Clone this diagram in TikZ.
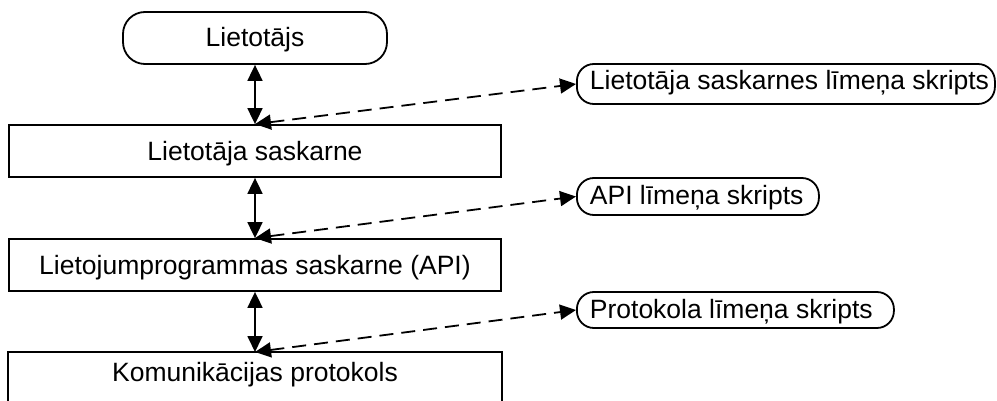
\documentclass[tikz,border=0pt]{standalone}
\usepackage{fontspec}
\setmainfont{Liberation Sans}
\usetikzlibrary{arrows.meta}
% left-aligned label inside a box of fixed width
\newcommand\scriptlabel[2]{\makebox[#1][l]{\hspace{13pt}#2}}
\begin{document}
\begin{tikzpicture}[x=1pt,y=-1pt,
  font=\fontsize{26.5}{30}\selectfont,
  line width=1.8pt,
  tip/.tip={Triangle[length=16pt,width=15pt]},
  layerbox/.style={draw, minimum width=492pt, minimum height=52pt,
    inner sep=0pt, text height=19pt, text depth=0pt},
  userbox/.style={draw, rounded corners=22pt, minimum width=264pt,
    minimum height=52pt, inner sep=0pt, text height=19pt, text depth=2pt},
  scriptbox/.style={draw, rounded corners=17pt, inner sep=0pt,
    text height=19pt, text depth=2pt, anchor=west},
  link/.style={{tip}-{tip}},
  dashlink/.style={{tip}-{tip}, dash pattern=on 14pt off 8pt}]

\path[use as bounding box, clip] (0,0) rectangle (997,401);

% main stack
\node[userbox] (user) at (255,38) {Lietotājs};
\node[layerbox] (ui) at (255,151) {Lietotāja saskarne};
\node[layerbox] (api) at (255,265) {Lietojumprogrammas saskarne (API)};
\node[layerbox, draw=none, minimum height=38pt, anchor=north] (proto) at (255,352)
  {Komunikācijas protokols};
\draw ([yshift=-30pt]proto.south west) -- (proto.north west)
  -- (proto.north east) -- ([yshift=-30pt]proto.south east);

% scripting levels
\node[scriptbox, minimum height=40pt, text depth=8pt] (s1) at (576,84)
  {\scriptlabel{418pt}{Lietotāja saskarnes līmeņa skripts}};
\node[scriptbox, minimum height=37pt] (s2) at (576,196.5)
  {\scriptlabel{242pt}{API līmeņa skripts}};
\node[scriptbox, minimum height=36pt] (s3) at (576,310)
  {\scriptlabel{317pt}{Protokola līmeņa skripts}};

% connectors
\draw[link] (user.south) -- (ui.north);
\draw[link] (ui.south) -- (api.north);
\draw[link] (api.south) -- (proto.north);

\draw[dashlink] (ui.north) -- (s1.west);
\draw[dashlink] (api.north) -- (s2.west);
\draw[dashlink] (proto.north) -- (s3.west);
\end{tikzpicture}
\end{document}
